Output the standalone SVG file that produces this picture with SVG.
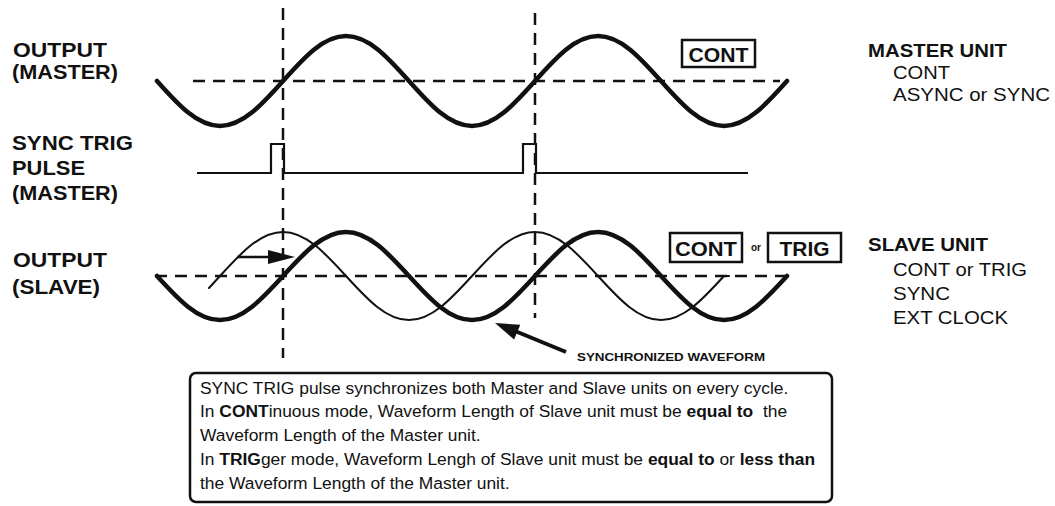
<svg xmlns="http://www.w3.org/2000/svg" width="1055" height="506" viewBox="0 0 1055 506">
<style>
.bg{fill:#fff}
.lbl{font-family:"Liberation Sans",Arial,sans-serif;font-weight:bold;font-size:20px;fill:#111}
.rl{font-family:"Liberation Sans",Arial,sans-serif;font-size:19px;fill:#111}
.rb{font-weight:bold}
.bt{font-family:"Liberation Sans",Arial,sans-serif;font-size:17.4px;fill:#111}
.b{font-weight:bold}
.wave{fill:none;stroke:#111;stroke-width:4.5;stroke-linecap:round;stroke-linejoin:round}
.thin{fill:none;stroke:#111;stroke-width:2;stroke-linecap:round}
.dash{fill:none;stroke:#111;stroke-width:2.5;stroke-dasharray:12 8}
.pulse{fill:none;stroke:#111;stroke-width:2.2}
.mbox{fill:#fff;stroke:#111;stroke-width:2.5}
.mtxt{font-family:"Liberation Sans",Arial,sans-serif;font-weight:bold;font-size:20px;fill:#111}
.small{font-family:"Liberation Sans",Arial,sans-serif;font-weight:bold;fill:#111}
</style>
<rect class="bg" x="0" y="0" width="1055" height="506"/>

<g id="left-labels">
<text class="lbl" x="13" y="57" textLength="94" lengthAdjust="spacingAndGlyphs">OUTPUT</text>
<text class="lbl" x="12" y="79" textLength="106" lengthAdjust="spacingAndGlyphs">(MASTER)</text>
<text class="lbl" x="12" y="150" textLength="121" lengthAdjust="spacingAndGlyphs">SYNC TRIG</text>
<text class="lbl" x="12" y="175" textLength="73" lengthAdjust="spacingAndGlyphs">PULSE</text>
<text class="lbl" x="12" y="200" textLength="106" lengthAdjust="spacingAndGlyphs">(MASTER)</text>
<text class="lbl" x="13" y="267" textLength="94" lengthAdjust="spacingAndGlyphs">OUTPUT</text>
<text class="lbl" x="12" y="294" textLength="88" lengthAdjust="spacingAndGlyphs">(SLAVE)</text>
</g>

<g id="right-labels">
<text class="rl rb" x="868" y="57" textLength="139" lengthAdjust="spacingAndGlyphs">MASTER UNIT</text>
<text class="rl" x="893" y="79" textLength="57" lengthAdjust="spacingAndGlyphs">CONT</text>
<text class="rl" x="893" y="101" textLength="157" lengthAdjust="spacingAndGlyphs">ASYNC or SYNC</text>
<text class="rl rb" x="868" y="251" textLength="120" lengthAdjust="spacingAndGlyphs">SLAVE UNIT</text>
<text class="rl" x="893" y="276" textLength="134" lengthAdjust="spacingAndGlyphs">CONT or TRIG</text>
<text class="rl" x="893" y="300" textLength="57" lengthAdjust="spacingAndGlyphs">SYNC</text>
<text class="rl" x="893" y="324" textLength="115" lengthAdjust="spacingAndGlyphs">EXT CLOCK</text>
</g>

<g id="guides">
<line class="dash" x1="193" y1="81" x2="780" y2="81"/>
<line class="dash" x1="155" y1="276" x2="795" y2="276"/>
<line class="dash" x1="283" y1="8" x2="283" y2="358"/>
<line class="dash" x1="535" y1="13" x2="535" y2="318"/>
</g>

<g id="master-output">
<path class="wave" d="M157,81 C178.06,104.6 197.3,126 220,126 C242.7,126 261.94,104.6 283,81 C304.06,57.4 323.3,36 346,36 C368.7,36 387.94,57.4 409,81 C430.06,104.6 449.3,126 472,126 C494.7,126 513.94,104.6 535,81 C556.06,57.4 575.3,36 598,36 C620.7,36 639.94,57.4 661,81 C682.06,104.6 701.3,126 724,126 C746.7,126 765.94,104.6 787,81"/>
</g>

<g id="master-mode">
<rect class="mbox" x="682" y="40" width="73" height="27"/>
<text class="mtxt" x="718.5" y="62" text-anchor="middle" textLength="60" lengthAdjust="spacingAndGlyphs">CONT</text>
</g>

<g id="sync-pulse">
<path class="pulse" d="M197,173 L271,173 L271,144 L284,144 L284,173 L523,173 L523,144 L536,144 L536,173 L748,173"/>
</g>

<g id="slave-output">
<path class="thin" d="M209,288 L220,276 C241.06,252.9 260.3,232 283,232 C305.7,232 324.94,252.9 346,276 C367.06,299.1 386.3,320 409,320 C431.7,320 450.94,299.1 472,276 C493.06,252.9 512.3,232 535,232 C557.7,232 576.94,252.9 598,276 C619.06,299.1 638.3,320 661,320 C683.7,320 702.94,299.1 724,276 L729,276"/>
<path class="wave" d="M157,276 C178.06,299.1 197.3,320 220,320 C242.7,320 261.94,299.1 283,276 C304.06,252.9 323.3,232 346,232 C368.7,232 387.94,252.9 409,276 C430.06,299.1 449.3,320 472,320 C494.7,320 513.94,299.1 535,276 C556.06,252.9 575.3,232 598,232 C620.7,232 639.94,252.9 661,276 C682.06,299.1 701.3,320 724,320 C746.7,320 765.94,299.1 787,276"/>
</g>

<g id="slave-mode">
<rect class="mbox" x="670" y="233" width="72" height="29"/>
<text class="mtxt" x="706" y="256" text-anchor="middle" textLength="62" lengthAdjust="spacingAndGlyphs">CONT</text>
<text class="small" x="756" y="251" text-anchor="middle" style="font-size:10px">or</text>
<rect class="mbox" x="768" y="233" width="73" height="29"/>
<text class="mtxt" x="804.5" y="256" text-anchor="middle" textLength="50" lengthAdjust="spacingAndGlyphs">TRIG</text>
</g>

<g id="connectors">
<line x1="237" y1="257" x2="271" y2="257" stroke="#111" stroke-width="2.5"/>
<polygon points="268,250 295,257 268,264" fill="#111"/>
<line x1="566" y1="352" x2="515" y2="331" stroke="#111" stroke-width="4"/>
<polygon points="495,323 520.3,324.8 514.1,339.6" fill="#111"/>
</g>

<g id="sync-label">
<text class="small" x="577" y="361" style="font-size:11.5px" textLength="188" lengthAdjust="spacingAndGlyphs">SYNCHRONIZED WAVEFORM</text>
</g>

<g id="note">
<rect x="190" y="373" width="642" height="129" rx="6" ry="6" fill="#fff" stroke="#111" stroke-width="2.5"/>
<text class="bt" x="200" y="394">SYNC TRIG pulse synchronizes both Master and Slave units on every cycle.</text>
<text class="bt" x="200" y="417">In <tspan class="b">CONT</tspan>inuous mode, Waveform Length of Slave unit must be <tspan class="b">equal to</tspan> &#160;the</text>
<text class="bt" x="200" y="441">Waveform Length of the Master unit.</text>
<text class="bt" x="200" y="465">In <tspan class="b">TRIG</tspan>ger mode, Waveform Lengh of Slave unit must be <tspan class="b">equal to</tspan> or <tspan class="b">less than</tspan></text>
<text class="bt" x="200" y="489">the Waveform Length of the Master unit.</text>
</g>
</svg>
